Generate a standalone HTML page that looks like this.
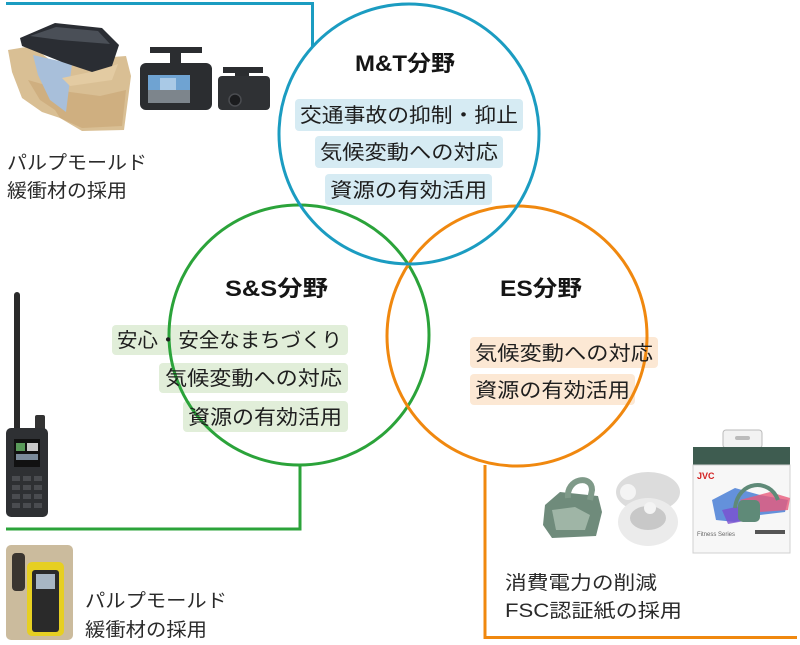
<!DOCTYPE html>
<html><head><meta charset="utf-8"><style>
html,body{margin:0;padding:0;background:#fff;}
svg{display:block;}
text{font-family:"Liberation Sans","Noto Sans CJK JP",sans-serif;fill:#1e1e1e;}
.t{font-weight:bold;font-size:22px;fill:#151515;}
.g{font-size:20px;}
.c{font-size:19px;fill:#2a2a2a;}
</style></head><body>
<svg width="800" height="645" viewBox="0 0 800 645" xmlns="http://www.w3.org/2000/svg">
<!-- connectors -->
<polyline points="6,3.5 312.5,3.5 312.5,47" fill="none" stroke="#1b9cc1" stroke-width="3"/>
<polyline points="300,465 300,529 6,529" fill="none" stroke="#2ba33a" stroke-width="3"/>
<polyline points="485,465 485,637.5 797,637.5" fill="none" stroke="#f0880f" stroke-width="3"/>

<!-- tag boxes -->
<g fill="#d6ebf3">
<rect x="295" y="99" width="228" height="32" rx="4"/>
<rect x="315" y="136" width="188" height="32" rx="4"/>
<rect x="325" y="174" width="167" height="31" rx="4"/>
</g>
<g fill="#e1eed9">
<rect x="112" y="325" width="236" height="30" rx="4"/>
<rect x="159" y="363" width="189" height="30" rx="4"/>
<rect x="183" y="401" width="165" height="31" rx="4"/>
</g>
<g fill="#fce8d4">
<rect x="470" y="337" width="188" height="31" rx="4"/>
<rect x="470" y="374" width="165" height="31" rx="4"/>
</g>

<!-- circles -->
<circle cx="299" cy="335" r="130" fill="none" stroke="#2ba33a" stroke-width="3"/>
<circle cx="517" cy="336" r="130" fill="none" stroke="#f0880f" stroke-width="3"/>
<circle cx="409" cy="134" r="130" fill="none" stroke="#1b9cc1" stroke-width="3"/>

<!-- titles -->
<text class="t" x="355" y="71" textLength="100" lengthAdjust="spacingAndGlyphs">M&amp;T分野</text>
<text class="t" x="225" y="296" textLength="103" lengthAdjust="spacingAndGlyphs">S&amp;S分野</text>
<text class="t" x="500" y="296" textLength="82" lengthAdjust="spacingAndGlyphs">ES分野</text>

<!-- tag texts -->
<text class="g" x="300" y="122" textLength="218" lengthAdjust="spacingAndGlyphs">交通事故の抑制・抑止</text>
<text class="g" x="320" y="159" textLength="178" lengthAdjust="spacingAndGlyphs">気候変動への対応</text>
<text class="g" x="330" y="197" textLength="157" lengthAdjust="spacingAndGlyphs">資源の有効活用</text>

<text class="g" x="117" y="347" textLength="225" lengthAdjust="spacingAndGlyphs">安心・安全なまちづくり</text>
<text class="g" x="165" y="385" textLength="177" lengthAdjust="spacingAndGlyphs">気候変動への対応</text>
<text class="g" x="188" y="424" textLength="154" lengthAdjust="spacingAndGlyphs">資源の有効活用</text>

<text class="g" x="475" y="360" textLength="178" lengthAdjust="spacingAndGlyphs">気候変動への対応</text>
<text class="g" x="475" y="397" textLength="155" lengthAdjust="spacingAndGlyphs">資源の有効活用</text>

<!-- captions -->
<text class="c" x="7" y="169" textLength="140" lengthAdjust="spacingAndGlyphs">パルプモールド</text>
<text class="c" x="7" y="197" textLength="120" lengthAdjust="spacingAndGlyphs">緩衝材の採用</text>
<text class="c" x="85" y="607" textLength="142" lengthAdjust="spacingAndGlyphs">パルプモールド</text>
<text class="c" x="85" y="636" textLength="122" lengthAdjust="spacingAndGlyphs">緩衝材の採用</text>
<text class="c" x="505" y="589" textLength="152" lengthAdjust="spacingAndGlyphs">消費電力の削減</text>
<text class="c" x="505" y="617" textLength="177" lengthAdjust="spacingAndGlyphs">FSC認証紙の採用</text>

<!-- top-left pulp mold image -->
<polygon points="8,50 32,46 50,60 70,64 100,58 126,56 131,76 124,130 82,131 60,118 42,112 22,98 12,72" fill="#d9bf94"/>
<polygon points="28,80 40,100 55,110 60,118 82,128 122,126 126,90 100,96 70,92" fill="#caa878" opacity="0.7"/>
<polygon points="33,55 72,64 66,112 50,100 38,75" fill="#a8bfda"/>
<polygon points="62,78 100,70 118,64 112,80 70,86" fill="#e3cba2"/>
<polygon points="20,38 55,23 102,28 119,45 112,66 92,72 62,62 22,46" fill="#2a2d33"/>
<polygon points="30,36 56,27 98,31 110,44 60,40" fill="#4a4f57"/>
<!-- dash cam 1 -->
<rect x="150" y="47" width="52" height="6" fill="#2b2d30"/>
<rect x="170" y="52" width="11" height="13" fill="#2b2d30"/>
<rect x="140" y="63" width="72" height="47" rx="6" fill="#2b2d30"/>
<rect x="148" y="75" width="42" height="28" fill="#6fa3d2"/>
<rect x="148" y="90" width="42" height="13" fill="#7d858c"/>
<rect x="160" y="78" width="16" height="12" fill="#a9c9e6"/>
<!-- dash cam 2 -->
<rect x="223" y="67" width="40" height="6" fill="#2b2d30"/>
<rect x="235" y="72" width="14" height="6" fill="#2b2d30"/>
<rect x="218" y="76" width="52" height="34" rx="4" fill="#2f3134"/>
<circle cx="235" cy="100" r="6" fill="#1b1c1e" stroke="#4a4c50" stroke-width="1.5"/>

<!-- radio -->
<rect x="14" y="292" width="6" height="140" rx="3" fill="#2a2a2a"/>
<rect x="35" y="415" width="10" height="16" rx="2" fill="#333"/>
<rect x="6" y="428" width="42" height="89" rx="5" fill="#2e3033"/>
<rect x="14" y="439" width="26" height="28" fill="#111"/>
<rect x="16" y="443" width="9" height="8" fill="#5a9a5a"/>
<rect x="27" y="443" width="11" height="8" fill="#c9c9c9"/>
<rect x="16" y="454" width="22" height="6" fill="#7a8a9a"/>
<g fill="#4a4c50">
<rect x="12" y="476" width="8" height="5"/><rect x="23" y="476" width="8" height="5"/><rect x="34" y="476" width="8" height="5"/>
<rect x="12" y="485" width="8" height="5"/><rect x="23" y="485" width="8" height="5"/><rect x="34" y="485" width="8" height="5"/>
<rect x="12" y="494" width="8" height="5"/><rect x="23" y="494" width="8" height="5"/><rect x="34" y="494" width="8" height="5"/>
<rect x="12" y="503" width="8" height="5"/><rect x="23" y="503" width="8" height="5"/><rect x="34" y="503" width="8" height="5"/>
</g>

<!-- bottom-left pulp tray -->
<rect x="6" y="545" width="67" height="95" rx="5" fill="#cbbb9d"/>
<rect x="12" y="553" width="13" height="38" rx="4" fill="#3a3530"/>
<rect x="27" y="562" width="37" height="74" rx="5" fill="#e6cf22"/>
<rect x="32" y="570" width="27" height="62" rx="3" fill="#2a2a2a"/>
<rect x="36" y="574" width="19" height="15" fill="#a7b6c4"/>

<!-- earphones green case -->
<polygon points="545,505 560,492 598,496 602,512 596,536 552,538 543,525" fill="#6f8b7b"/>
<polygon points="552,510 575,507 590,515 585,530 556,530" fill="#9fb5a6"/>
<path d="M568,498 C566,478 592,474 592,490 L590,500" fill="none" stroke="#7f9a89" stroke-width="6"/>
<!-- white case -->
<ellipse cx="648" cy="492" rx="32" ry="20" fill="#dcdcdc"/>
<ellipse cx="648" cy="522" rx="30" ry="24" fill="#ebebeb"/>
<ellipse cx="648" cy="518" rx="18" ry="12" fill="#c8c8c8"/>
<circle cx="628" cy="492" r="8" fill="#f4f4f4"/>
<circle cx="650" cy="508" r="6" fill="#f4f4f4"/>
<!-- product box -->
<rect x="723" y="430" width="39" height="18" rx="3" fill="#f2f2f2" stroke="#bbb" stroke-width="1"/>
<rect x="735" y="436" width="15" height="4" rx="2" fill="#bbb"/>
<rect x="693" y="447" width="97" height="18" fill="#3e5c50"/>
<rect x="693" y="465" width="97" height="88" fill="#f7f7f7" stroke="#d0d0d0" stroke-width="1"/>
<text x="697" y="479" style="font-size:9px;font-weight:bold;fill:#d32222">JVC</text>
<polygon points="712,500 735,488 760,495 788,500 785,512 760,515 735,522 716,520" fill="#4a7fd6" opacity="0.85"/>
<polygon points="740,500 770,492 790,498 788,510 760,512" fill="#e85a7a" opacity="0.8"/>
<polygon points="722,510 745,505 750,520 728,524" fill="#7a4fd0" opacity="0.8"/>
<path d="M735,508 C738,480 770,478 778,500" fill="none" stroke="#5f8a78" stroke-width="4"/>
<rect x="738" y="500" width="22" height="22" rx="5" fill="#5f8a78"/>
<text x="697" y="536" style="font-size:6px;fill:#666">Fitness Series</text>
<rect x="755" y="530" width="30" height="4" fill="#555"/>
</svg>
</body></html>
